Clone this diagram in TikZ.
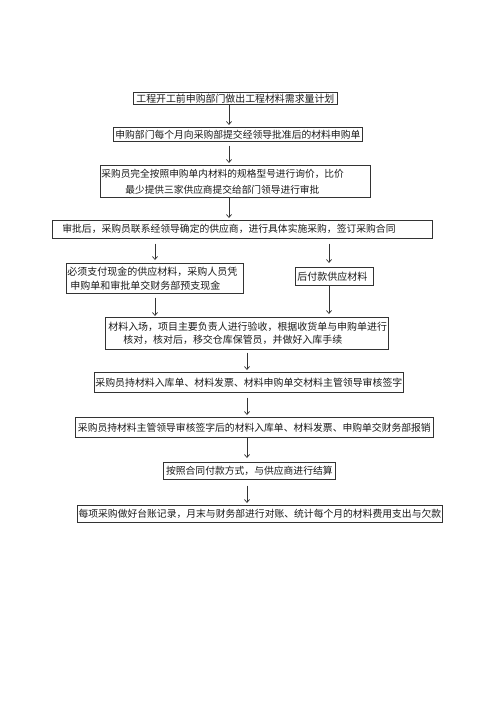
\documentclass[tikz,border=0pt]{standalone}
\usepackage{fontspec}
\setmainfont{Noto Sans CJK SC}
\usetikzlibrary{arrows.meta}
\definecolor{lc}{HTML}{333333}
\definecolor{tc}{HTML}{1A1A1A}
\begin{document}
\begin{tikzpicture}[x=1pt,y=-1pt,
  bx/.style={draw=lc, line width=0.7pt, anchor=north west, inner ysep=0pt, text=tc},
  arr/.style={draw=lc, line width=0.7pt, -{Straight Barb[length=3pt,width=5pt]}}]
\useasboundingbox[fill=white] (0,0) rectangle (500,707);

\node[bx, minimum width=204pt, minimum height=12pt, inner xsep=0pt,
  font=\fontsize{9.9}{12}\selectfont] (b1) at (133,92)
  {工程开工前申购部门做出工程材料需求量计划};
\node[bx, minimum width=249pt, minimum height=14pt, inner xsep=0pt,
  font=\fontsize{9.8}{12}\selectfont] (b2) at (113,127)
  {申购部门每个月向采购部提交经领导批准后的材料申购单};
\node[bx, minimum width=270pt, minimum height=32pt, inner xsep=1pt, text width=268pt,
  align=left, font=\fontsize{9.7}{16}\selectfont] (b3) at (100,165)
  {采购员完全按照申购单内材料的规格型号进行询价，比价\\\hspace*{24pt}最少提供三家供应商提交给部门领导进行审批};
\node[bx, minimum width=380pt, minimum height=18pt, inner xsep=10pt, text width=360pt,
  align=left, font=\fontsize{9.8}{12}\selectfont] (b4) at (52,220)
  {审批后，采购员联系经领导确定的供应商，进行具体实施采购，签订采购合同};
\node[bx, minimum width=177pt, minimum height=30pt, inner xsep=1pt, text width=175pt,
  align=left, font=\fontsize{10}{14}\selectfont] (b5) at (66,263)
  {必须支付现金的供应材料，采购人员凭\\\hspace*{3pt}申购单和审批单交财务部预支现金};
\node[bx, minimum width=78pt, minimum height=18pt, inner xsep=2pt, text width=74pt,
  align=left, font=\fontsize{10}{12}\selectfont] (b6) at (295,267)
  {后付款供应材料};
\node[bx, minimum width=283pt, minimum height=32pt, inner xsep=3pt, text width=277pt,
  align=left, font=\fontsize{9.95}{13.5}\selectfont] (b7) at (105,317)
  {材料入场，项目主要负责人进行验收，根据收货单与申购单进行\\\hspace*{15pt}核对，核对后，移交仓库保管员，并做好入库手续};
\node[bx, minimum width=309pt, minimum height=20pt, inner xsep=0pt,
  font=\fontsize{9.9}{12}\selectfont] (b8) at (94,372)
  {采购员持材料入库单、材料发票、材料申购单交材料主管领导审核签字};
\node[bx, minimum width=358pt, minimum height=20pt, inner xsep=0pt,
  font=\fontsize{9.8}{12}\selectfont] (b9) at (75,417)
  {采购员持材料主管领导审核签字后的材料入库单、材料发票、申购单交财务部报销};
\node[bx, minimum width=172pt, minimum height=17pt, inner xsep=0pt,
  font=\fontsize{9.8}{12}\selectfont] (b10) at (163,462)
  {按照合同付款方式，与供应商进行结算};
\node[bx, minimum width=365pt, minimum height=17pt, inner xsep=0pt,
  font=\fontsize{9.8}{12}\selectfont] (b11) at (77,505)
  {每项采购做好台账记录，月末与财务部进行对账、统计每个月的材料费用支出与欠款};

\coordinate (xa) at (229,0);
\coordinate (xl) at (155,0);
\coordinate (xr) at (329,0);
\coordinate (xb) at (247,0);

\draw[arr, shorten >=2pt] (b1.south -| xa) -- (b2.north -| xa);
\draw[arr, shorten <=4pt, shorten >=2pt] (b2.south -| xa) -- (b3.north -| xa);
\draw[arr, shorten >=2pt] (b3.south -| xa) -- (b4.north -| xa);
\draw[arr, shorten <=5pt, shorten >=3pt] (b4.south -| xl) -- (b5.north -| xl);
\draw[arr, shorten <=5pt, shorten >=4pt] (b4.south -| xr) -- (b6.north -| xr);
\draw[arr, shorten <=4pt, shorten >=1pt] (b5.south -| xl) -- (b7.north -| xl);
\draw[arr, shorten >=3pt] (b6.south -| xr) -- (b7.north -| xr);
\draw[arr, shorten <=3pt, shorten >=2pt] (b7.south -| xb) -- (b8.north -| xb);
\draw[arr, shorten <=5pt, shorten >=2pt] (b8.south -| xb) -- (b9.north -| xb);
\draw[arr, shorten >=4pt] (b9.south -| xb) -- (b10.north -| xb);
\draw[arr, shorten <=6pt, shorten >=2pt] (b10.south -| xb) -- (b11.north -| xb);
\end{tikzpicture}
\end{document}
